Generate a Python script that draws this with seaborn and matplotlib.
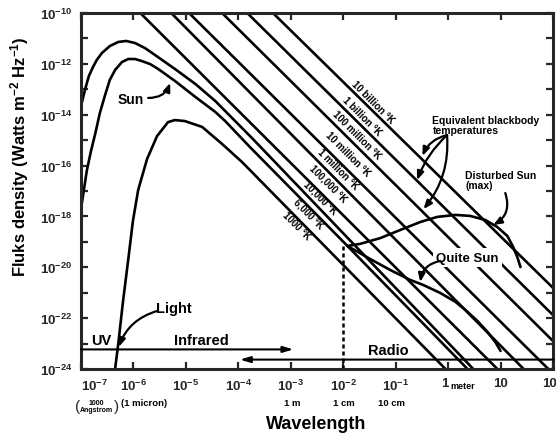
import numpy as np
import pandas as pd
import matplotlib
matplotlib.use('Agg')
import matplotlib.pyplot as plt
import seaborn as sns
from matplotlib import font_manager
from matplotlib.ticker import NullLocator

# --- data (log10 of wavelength in m, log10 of flux density) ---
hot_lam = [-7.00, -6.92, -6.85, -6.77, -6.70, -6.60, -6.45, -6.29, -6.14, -5.97, -5.78,
           -5.59, -5.21, -4.82, -4.44, -3.72, 0.48]
hot_flux = [-13.66, -12.99, -12.48, -12.12, -11.85, -11.57, -11.30, -11.14, -11.10, -11.18, -11.38,
            -11.65, -12.20, -12.79, -13.46, -14.96, -24.00]

sun_lam = [-7.00, -6.96, -6.89, -6.81, -6.73, -6.64, -6.54, -6.45, -6.35, -6.22, -6.10,
           -5.97, -5.84, -5.68, -5.53, -5.21, -4.82, -4.44, -4.25, -3.78, -1.92, 0.37]
sun_flux = [-17.71, -17.16, -16.21, -15.43, -14.76, -13.93, -13.22, -12.63, -12.24, -11.93, -11.81,
            -11.81, -11.89, -12.01, -12.20, -12.67, -13.30, -13.89, -14.25, -15.27, -19.16, -24.00]

cool_lam = [-6.35, -6.29, -6.20, -6.10, -6.01, -5.91, -5.74, -5.55, -5.34, -5.21, -5.02,
            -4.69, -4.31, -3.93, -0.05]
cool_flux = [-24.00, -23.02, -21.36, -19.71, -18.18, -16.96, -15.74, -14.84, -14.29, -14.21, -14.25,
             -14.48, -15.15, -15.86, -24.00]

quiet_lam = [-1.92, -1.49, -1.10, -0.72, -0.47, -0.15, 0.14, 0.33, 0.56, 0.75, 0.90, 1.00]
quiet_flux = [-19.16, -19.67, -20.11, -20.50, -20.70, -21.01, -21.36, -21.68, -22.11, -22.54, -22.94, -23.29]

disturbed_lam = [-1.92, -1.68, -1.29, -0.91, -0.53, -0.21, 0.14, 0.42, 0.71, 0.94, 1.13, 1.24, 1.32, 1.38]
disturbed_flux = [-19.16, -19.08, -18.85, -18.53, -18.22, -18.02, -17.94, -17.98, -18.14, -18.42, -18.77,
                  -19.20, -19.60, -19.99]

# straight "equivalent blackbody" lines: start / end points
rj_names = ['100,000', '1 million', '10 million', '100 million', '1 billion', '10 billion']
rj_lam_start = [-5.87, -5.28, -4.94, -4.31, -3.83, -3.34]
rj_flux_start = [-10.0, -10.0, -10.0, -10.0, -10.0, -10.0]
rj_lam_end = [0.94, 1.44, 1.91, 2.00, 2.00, 2.00]
rj_flux_end = [-24.0, -24.0, -24.0, -22.90, -21.88, -20.81]

# temperature labels along the lines (label, log lam, log flux of text centre)
temp_labels = ['10 billion °K', '1 billion °K', '100 million °K', '10 million °K', '1 million °K',
               '100,000 °K', '10,000 °K', '6,000 °K', '1000 °K']
temp_lab_lam = [-1.43, -1.64, -1.75, -1.92, -2.10, -2.29, -2.44, -2.67, -2.90]
temp_lab_flux = [-13.50, -14.05, -14.76, -15.51, -16.13, -16.69, -17.24, -17.86, -18.34]

x_exps = [-7, -6, -5, -4, -3, -2, -1, 0, 1, 2]
x_ticklabels = [r'$10^{-7}$', r'$10^{-6}$', r'$10^{-5}$', r'$10^{-4}$', r'$10^{-3}$',
                r'$10^{-2}$', r'$10^{-1}$', '1', '10', '100']
y_exps = list(range(-24, -9))

# --- style ---
sns.set_style('ticks')
names = {f.name for f in font_manager.fontManager.ttflist}
base_font = 'Liberation Sans Narrow' if 'Liberation Sans Narrow' in names else 'Liberation Sans'
plt.rcParams['font.family'] = [base_font, 'DejaVu Sans']
plt.rcParams['font.weight'] = 'bold'
plt.rcParams['mathtext.fontset'] = 'custom'
plt.rcParams['mathtext.rm'] = f'{base_font}:bold'
plt.rcParams['mathtext.it'] = f'{base_font}:bold'
plt.rcParams['mathtext.bf'] = f'{base_font}:bold'

fig = plt.figure(figsize=(5.56, 4.35), dpi=100)
ax = fig.add_axes([81 / 556, 1 - 370 / 435, 472 / 556, 356 / 435])
ax.set(xscale='log', yscale='log')

# build one long table of every curve / line
rows = []
curves = {'10000 K': (hot_lam, hot_flux), '6000 K': (sun_lam, sun_flux), '1000 K': (cool_lam, cool_flux),
          'quiet': (quiet_lam, quiet_flux), 'disturbed': (disturbed_lam, disturbed_flux)}
for i, name in enumerate(rj_names):
    curves[name] = ([rj_lam_start[i], rj_lam_end[i]], [rj_flux_start[i], rj_flux_end[i]])
for name, (lam, flux) in curves.items():
    for l, f in zip(lam, flux):
        rows.append({'curve': name, 'wavelength': 10.0 ** l, 'flux': 10.0 ** f})
df = pd.DataFrame(rows)

sns.lineplot(data=df, x='wavelength', y='flux', units='curve', estimator=None, sort=False,
             color='black', lw=1.9, ax=ax, legend=False)

# dashed marker at 1 cm
ax.plot([1e-2, 1e-2], [10 ** sun_flux[-2], 1e-24], color='black', lw=1.8, ls=(0, (1.6, 1.2)))

ax.set_xlim(1e-7, 1e2)
ax.set_ylim(1e-24, 1e-10)
ax.set_xlabel('')
ax.set_ylabel('')

for s in ax.spines.values():
    s.set_linewidth(2.2)
ax.xaxis.set_minor_locator(NullLocator())
ax.yaxis.set_minor_locator(NullLocator())
ax.set_xticks([10.0 ** e for e in x_exps], labels=x_ticklabels)
ax.set_yticks([10.0 ** e for e in y_exps],
              labels=[rf'$10^{{{e}}}$' if e % 2 == 0 else '' for e in y_exps])
ax.tick_params(which='major', direction='in', length=5, width=1.6, top=True, right=True,
               labelsize=9.5, pad=6)
xlabels = ax.get_xticklabels()
xlabels[0].set_ha('left')
xlabels[7].set_ha('right')

bold = dict(fontweight='bold', color='black')

# band arrows (UV / infrared / radio)
ax.annotate('', xy=(10 ** -2.95, 10 ** -23.23), xytext=(1e-7, 10 ** -23.23),
            arrowprops=dict(arrowstyle='-|>,head_length=0.6,head_width=0.18', color='black', lw=1.5,
                            shrinkA=0, shrinkB=0))
ax.annotate('', xy=(10 ** -3.97, 10 ** -23.63), xytext=(1e2, 10 ** -23.63),
            arrowprops=dict(arrowstyle='-|>,head_length=0.6,head_width=0.18', color='black', lw=1.5,
                            shrinkA=0, shrinkB=0))
ax.text(10 ** -6.62, 10 ** -22.86, 'UV', fontsize=10.5, ha='center', va='center', **bold)
ax.text(10 ** -4.71, 10 ** -22.86, 'Infrared', fontsize=10.5, ha='center', va='center', **bold)
ax.text(10 ** -1.14, 10 ** -23.25, 'Radio', fontsize=10.5, ha='center', va='center', **bold)

# labels with curved pointers
ax.text(10 ** -6.05, 10 ** -13.38, 'Sun', fontsize=10, ha='center', va='center', **bold)
ax.text(10 ** -5.23, 10 ** -21.60, 'Light', fontsize=10.5, ha='center', va='center', **bold)
ax.text(10 ** 0.37, 10 ** -19.63, 'Quite Sun', fontsize=9.5, ha='center', va='center',
        bbox=dict(facecolor='white', edgecolor='none', pad=2.5), **bold)
ax.text(10 ** 0.33, 10 ** -16.57, 'Disturbed Sun\n(max)', fontsize=7.5, ha='left', va='center',
        linespacing=1.0, **bold)
ax.text(10 ** -0.30, 10 ** -14.40, 'Equivalent blackbody\ntemperatures', fontsize=7.5, ha='left',
        va='center', linespacing=1.0, **bold)

arrows = [((-5.72, -13.34), (-5.30, -12.75), 0.35),
          ((-5.55, -21.72), (-6.28, -23.13), 0.25),
          ((-0.15, -19.75), (-0.53, -20.58), 0.35),
          ((1.09, -17.08), (0.86, -18.34), -0.4),
          ((-0.02, -14.80), (-0.49, -15.62), 0.25),
          ((-0.02, -14.80), (-0.59, -16.57), 0.12),
          ((-0.02, -14.80), (-0.47, -17.71), -0.2)]
for (sx, sy), (tx, ty), rad in arrows:
    ax.annotate('', xy=(10 ** tx, 10 ** ty), xytext=(10 ** sx, 10 ** sy),
                arrowprops=dict(arrowstyle='-|>,head_length=0.5,head_width=0.2', color='black', lw=1.6,
                                shrinkA=0, shrinkB=0, connectionstyle=f'arc3,rad={rad}'))

for lab, l, f in zip(temp_labels, temp_lab_lam, temp_lab_flux):
    ax.text(10 ** l, 10 ** f, lab, fontsize=7, rotation=-45, rotation_mode='anchor',
            ha='center', va='center', **bold)

# extra wavelength captions under the axis
ax.text(10 ** 0.05, 10 ** -24.63, 'meter', fontsize=6.5, ha='left', va='center', clip_on=False, **bold)
ax.text(10 ** -6.70, 10 ** -25.45, '1000\nAngstrom', fontsize=5.0, ha='center', va='center',
        linespacing=0.95, clip_on=False, **bold)
ax.text(10 ** -7.06, 10 ** -25.45, '(', fontsize=11, fontweight='normal', ha='center', va='center',
        clip_on=False)
ax.text(10 ** -6.32, 10 ** -25.45, ')', fontsize=11, fontweight='normal', ha='center', va='center',
        clip_on=False)
for lab, l in zip(['(1 micron)', '1 m', '1 cm', '10 cm'], [-5.80, -2.97, -1.98, -1.08]):
    ax.text(10 ** l, 10 ** -25.30, lab, fontsize=6.8, ha='center', va='center', clip_on=False, **bold)

fig.text(316 / 556, 1 - 425 / 435, 'Wavelength', fontsize=13, ha='center', va='center', **bold)
fig.text(20 / 556, 1 - 157 / 435, r'Fluks density (Watts m$^{-2}$ Hz$^{-1}$)', fontsize=12,
         rotation=90, ha='center', va='center', **bold)

fig.savefig('out.png', dpi=100, facecolor='white')
